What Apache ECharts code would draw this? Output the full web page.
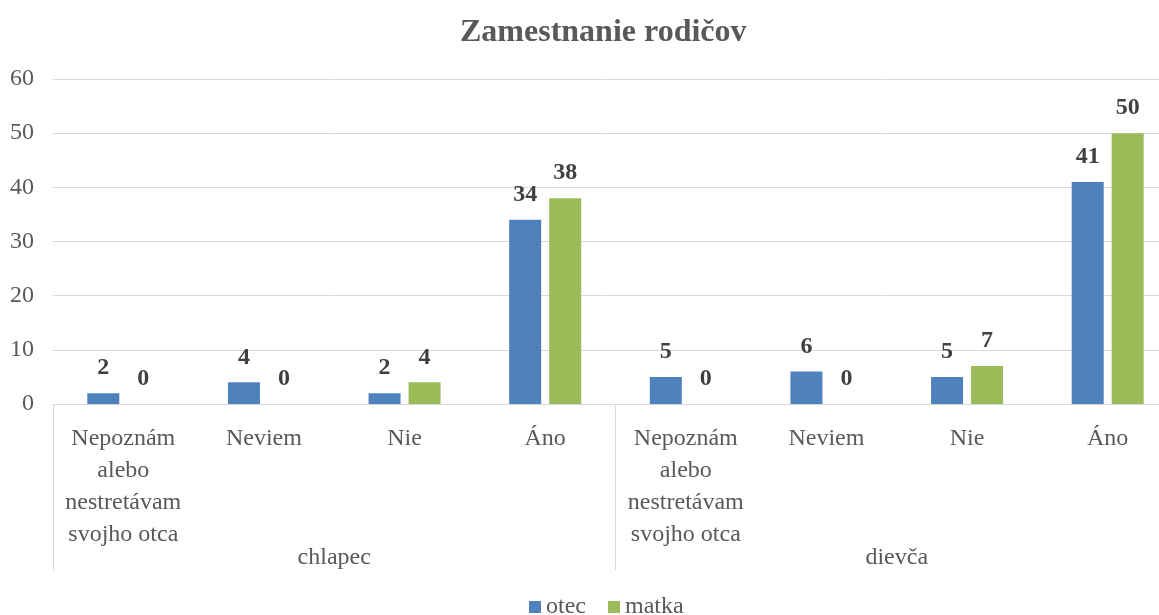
<!DOCTYPE html>
<html>
<head>
<meta charset="utf-8">
<script src="https://cdn.jsdelivr.net/npm/echarts@6/dist/echarts.min.js"></script>
<style>
  html, body { margin: 0; padding: 0; background: #fff; }
  #main { width: 1159px; height: 615px; }
</style>
</head>
<body>
<div id="main"></div>
<script>
// kategórie a skupiny
var categories = [
  "Nepoznám\nalebo\nnestretávam\nsvojho otca", "Neviem", "Nie", "Áno",
  "Nepoznám\nalebo\nnestretávam\nsvojho otca", "Neviem", "Nie", "Áno"
];
var groups = ["chlapec", "dievča"];
var otec = [2, 4, 2, 34, 5, 6, 5, 41];
var matka = [0, 0, 4, 38, 0, 0, 7, 50];

var font = "'Liberation Serif', 'Times New Roman', serif";
var chart = echarts.init(document.getElementById("main"));

var option = {
  animation: false,
  title: {
    text: "Zamestnanie rodičov",
    left: 455,
    top: 12,
    textStyle: { fontFamily: font, fontSize: 32, fontWeight: "bold", color: "#595959" }
  },
  legend: {
    data: ["otec", "matka"],
    top: 590,
    left: 524,
    itemWidth: 12,
    itemHeight: 12,
    itemGap: 22,
    icon: "rect",
    textStyle: { fontFamily: font, fontSize: 24, color: "#595959" }
  },
  grid: { left: 53, top: 79, right: -19, height: 325, outerBoundsMode: "none" },
  xAxis: [
    {
      type: "category",
      data: categories,
      axisLine: { lineStyle: { color: "#d9d9d9" } },
      axisTick: { show: false },
      axisLabel: {
        interval: 0,
        margin: 19,
        fontFamily: font,
        fontSize: 24,
        lineHeight: 32,
        color: "#595959"
      }
    },
    {
      type: "category",
      position: "bottom",
      data: groups,
      axisLine: { show: false },
      axisTick: { show: true, length: 166, lineStyle: { color: "#d9d9d9" } },
      axisLabel: { margin: 142, fontFamily: font, fontSize: 24, color: "#595959" }
    }
  ],
  yAxis: {
    type: "value",
    min: 0,
    max: 60,
    interval: 10,
    axisLine: { show: false },
    axisTick: { show: false },
    splitLine: { lineStyle: { color: "#d9d9d9" } },
    axisLabel: { margin: 19, fontFamily: font, fontSize: 24, color: "#595959" }
  },
  series: [
    {
      name: "otec",
      type: "bar",
      data: otec,
      barWidth: 32,
      barGap: "25%",
      itemStyle: { color: "#4f81bd" },
      label: {
        show: true,
        position: "top",
        distance: 13,
        fontFamily: font,
        fontSize: 24,
        fontWeight: "bold",
        color: "#404040"
      }
    },
    {
      name: "matka",
      type: "bar",
      data: matka,
      barWidth: 32,
      itemStyle: { color: "#9bbb59" },
      label: {
        show: true,
        position: "top",
        distance: 13,
        fontFamily: font,
        fontSize: 24,
        fontWeight: "bold",
        color: "#404040"
      }
    }
  ]
};

chart.setOption(option);
</script>
</body>
</html>
